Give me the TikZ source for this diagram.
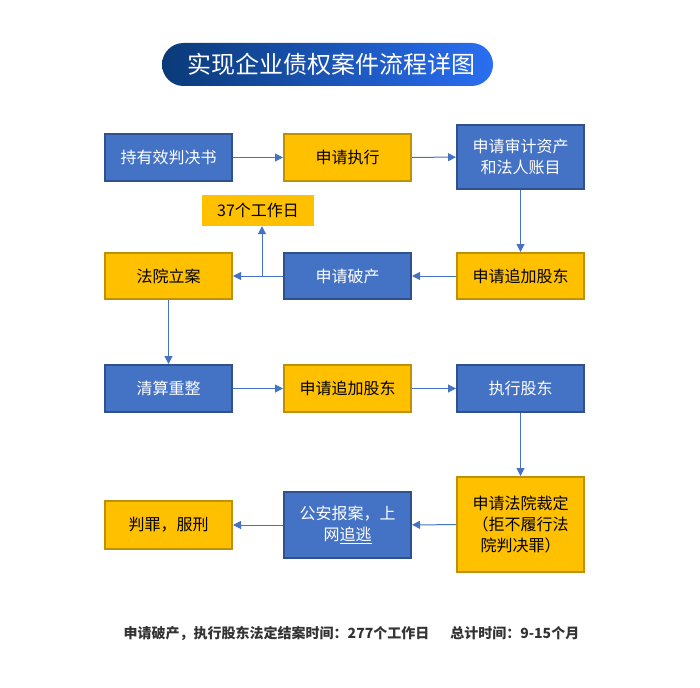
\documentclass[tikz,border=0pt]{standalone}
\usepackage{fontspec}
\setmainfont{Noto Sans CJK SC}[Kerning=Off]
\usetikzlibrary{arrows.meta}
\definecolor{bfill}{HTML}{4472C4}
\definecolor{bdraw}{HTML}{2F528F}
\definecolor{yfill}{HTML}{FFC000}
\definecolor{ydraw}{HTML}{BF9000}
\definecolor{arr}{HTML}{4472C4}
\definecolor{tleft}{HTML}{0A3A78}
\definecolor{tright}{HTML}{2A6EF2}
\definecolor{foot}{HTML}{333333}
\tikzset{
  box/.style={rectangle, line width=2pt, inner sep=0pt, minimum width=127pt, minimum height=47pt, align=center, font=\fontsize{16}{21}\selectfont},
  bluebox/.style={box, fill=bfill, draw=bdraw, text=white},
  yelbox/.style={box, fill=yfill, draw=ydraw, text=black},
  conn/.style={draw=arr, line width=1pt, -{Triangle[length=8pt,width=8pt]}},
}
\begin{document}
\begin{tikzpicture}[x=1pt,y=-1pt]
\useasboundingbox (0,0) rectangle (700,687);
% title
\shade[left color=tleft, right color=tright, rounded corners=21.5pt] (162,43) rectangle (493,86);
\node[text=white, font=\fontsize{24}{28}\selectfont, inner sep=0pt] (title) at (331,64.5) {实现企业债权案件流程详图};
% row 1
\node[bluebox] (a1) at (168.5,157.5) {持有效判决书};
\node[yelbox] (a2) at (347.5,157.5) {申请执行};
\node[bluebox, minimum height=64pt] (a3) at (520.5,157) {申请审计资产\\和法人账目};
% row 2
\node[rectangle, fill=yfill, inner sep=0pt, minimum width=112pt, minimum height=31pt, font=\fontsize{16}{21}\selectfont] (b0) at (258,210.5) {37个工作日};
\node[yelbox, minimum height=46pt] (b1) at (168.5,276) {法院立案};
\node[bluebox, minimum height=46pt] (b2) at (347.5,276) {申请破产};
\node[yelbox, minimum height=46pt] (b3) at (520.5,276) {申请追加股东};
% row 3
\node[bluebox] (c1) at (168.5,388.5) {清算重整};
\node[yelbox] (c2) at (347.5,388.5) {申请追加股东};
\node[bluebox] (c3) at (520.5,388.5) {执行股东};
% row 4
\node[yelbox, minimum height=48pt] (d1) at (168.5,525) {判罪，服刑};
\node[bluebox, minimum height=66pt] (d2) at (347.5,525) {公安报案，上\\网\underline{追逃}};
\node[yelbox, minimum height=95pt] (d3) at (520.5,524.5) {申请法院裁定\\（拒不履行法\\院判决罪）};
% connectors
\draw[conn] (a1) -- (a2);
\draw[conn] (a2) -- (a3);
\draw[conn] (a3) -- (b3);
\draw[conn] (b3) -- (b2);
\draw[conn] (b2) -- (b1);
\coordinate (br) at (262,276);
\draw[conn] (br) -- (br |- b0.south);
\draw[conn] (b1) -- (c1);
\draw[conn] (c1) -- (c2);
\draw[conn] (c2) -- (c3);
\draw[conn] (c3) -- (d3);
\draw[conn] (d3) -- (d2);
\draw[conn] (d2) -- (d1);
% footer
\node[text=foot, font=\fontsize{14}{16}\selectfont\bfseries, inner sep=0pt] (foot) at (351.5,633) {申请破产，执行股东法定结案时间：277个工作日\hspace{1.5em}总计时间：9-15个月};
\end{tikzpicture}
\end{document}
